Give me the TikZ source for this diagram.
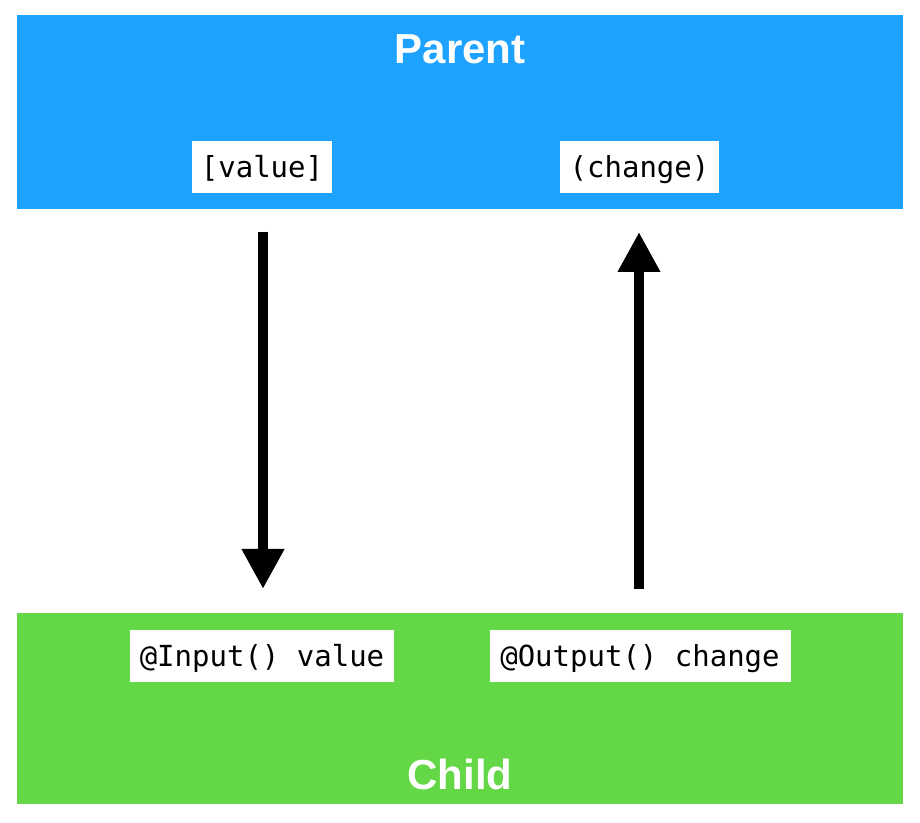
\documentclass[tikz,border=0pt]{standalone}
\usepackage{fontspec}
\setmainfont{Liberation Sans}
\newfontfamily\codefont{DejaVu Sans Mono}
\usetikzlibrary{arrows.meta}
\definecolor{parentblue}{RGB}{30,162,255}
\definecolor{childgreen}{RGB}{100,215,70}
\tikzset{
  band/.style={draw=none, minimum width=886pt, inner sep=0pt, outer sep=0pt},
  title/.style={text=white, font=\fontsize{42}{50}\selectfont\bfseries, anchor=base, inner sep=0pt},
  codebox/.style={fill=white, draw=none, inner sep=0pt, minimum height=52pt, font=\codefont\fontsize{29}{34}\selectfont, text height=24pt, text depth=3pt},
  flow/.style={line width=10pt, -{Triangle[width=40pt,length=40pt]}}
}
\begin{document}
\begin{tikzpicture}[x=1pt,y=1pt]
\useasboundingbox (0,0) rectangle (920,822);
\node[band, fill=parentblue, minimum height=194pt] (parent) at (460,710) {};
\node[band, fill=childgreen, minimum height=191pt] (child) at (460,113.5) {};
\node[title] (parenttitle) at (460,758) {Parent};
\node[title] (childtitle) at (460,33) {Child};
\node[codebox, minimum width=140pt] (pvalue) at (262,655) {[value]};
\node[codebox, minimum width=159pt] (pchange) at (639.5,655) {(change)};
\node[codebox, minimum width=264pt] (cinput) at (262,166.5) {@Input() value};
\node[codebox, minimum width=301pt] (coutput) at (640,166.5) {@Output() change};
\coordinate (downstart) at (263,590);
\coordinate (downend) at (263,233);
\coordinate (upstart) at (639,233);
\coordinate (upend) at (639,590);
\draw[flow] (downstart) -- (downend);
\draw[flow] (upstart) -- (upend);
\end{tikzpicture}
\end{document}
